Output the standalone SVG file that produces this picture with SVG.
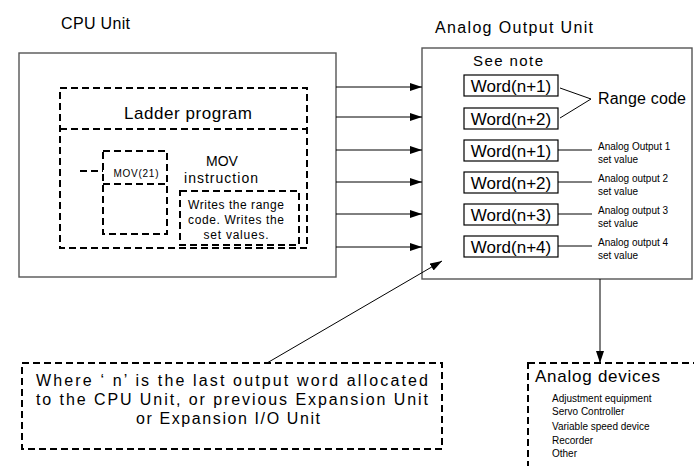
<svg xmlns="http://www.w3.org/2000/svg" width="694" height="466" viewBox="0 0 694 466">
<style>
text{font-family:"Liberation Sans",Arial,sans-serif;fill:#000}
.unit{fill:#fff;stroke:#555;stroke-width:1.4}
.dash{fill:none;stroke:#000;stroke-width:2;stroke-dasharray:7 4}
.word{fill:#fff;stroke:#000;stroke-width:1.2}
.ln{stroke:#000;stroke-width:1;fill:none}
.wt{font-size:17px;text-anchor:middle}
.sm{font-size:10px}
</style>
<defs>
<marker id="ah" viewBox="0 0 12 8" refX="12" refY="4" markerWidth="12" markerHeight="8" markerUnits="userSpaceOnUse" orient="auto">
<path d="M0,0 L12,4 L0,8 z" fill="#000"/>
</marker>
</defs>
<rect width="694" height="466" fill="#fff"/>

<g id="cpu-unit">
<text x="61" y="29" font-size="16" textLength="69">CPU Unit</text>
<rect class="unit" x="19" y="53" width="317" height="224"/>
</g>

<g id="ladder-program">
<rect class="dash" x="60" y="88" width="247" height="160"/>
<line class="dash" x1="60" y1="129" x2="307" y2="129"/>
<text x="188" y="119" font-size="17" text-anchor="middle" textLength="128">Ladder program</text>
</g>

<g id="mov21">
<rect class="dash" x="103" y="151" width="64" height="83"/>
<line class="dash" x1="103" y1="184" x2="167" y2="184"/>
<line class="dash" x1="80" y1="171" x2="103" y2="171"/>
<text x="136" y="177" font-size="10" text-anchor="middle" textLength="45">MOV(21)</text>
</g>

<g id="mov-instruction">
<text x="222" y="166" font-size="14" text-anchor="middle">MOV</text>
<text x="221" y="183" font-size="14" text-anchor="middle" textLength="74">instruction</text>
</g>

<g id="writes-note">
<rect class="dash" x="180" y="191" width="119" height="54"/>
<text x="236" y="209" font-size="12" text-anchor="middle" textLength="96">Writes the range</text>
<text x="236" y="224" font-size="12" text-anchor="middle" textLength="96">code. Writes the</text>
<text x="236" y="239" font-size="12" text-anchor="middle" textLength="65">set values.</text>
</g>

<g id="analog-output-unit">
<text x="435" y="33" font-size="16" textLength="158">Analog Output Unit</text>
<rect class="unit" x="422" y="48" width="270" height="231"/>
<text x="473" y="66" font-size="15" textLength="70">See note</text>
</g>

<g id="word-range-1">
<rect class="word" x="464" y="75" width="94" height="21"/>
<text class="wt" x="511" y="92">Word(n+1)</text>
</g>
<g id="word-range-2">
<rect class="word" x="464" y="108" width="94" height="21"/>
<text class="wt" x="511" y="125">Word(n+2)</text>
</g>
<g id="range-code">
<text x="598" y="104" font-size="16" textLength="88">Range code</text>
</g>
<g id="word-set-1">
<rect class="word" x="464" y="140" width="94" height="21"/>
<text class="wt" x="511" y="157">Word(n+1)</text>
<text class="sm" x="598" y="150">Analog Output 1</text>
<text class="sm" x="598" y="163">set value</text>
</g>
<g id="word-set-2">
<rect class="word" x="464" y="172" width="94" height="21"/>
<text class="wt" x="511" y="189">Word(n+2)</text>
<text class="sm" x="598" y="182">Analog output 2</text>
<text class="sm" x="598" y="195">set value</text>
</g>
<g id="word-set-3">
<rect class="word" x="464" y="204" width="94" height="21"/>
<text class="wt" x="511" y="221">Word(n+3)</text>
<text class="sm" x="598" y="214">Analog output 3</text>
<text class="sm" x="598" y="227">set value</text>
</g>
<g id="word-set-4">
<rect class="word" x="464" y="236" width="94" height="21"/>
<text class="wt" x="511" y="253">Word(n+4)</text>
<text class="sm" x="598" y="246">Analog output 4</text>
<text class="sm" x="598" y="259">set value</text>
</g>

<g id="where-note">
<rect class="dash" x="22" y="363" width="420" height="86"/>
<text x="232" y="386" font-size="16" text-anchor="middle" textLength="392">Where ‘ n’ is the last output word allocated</text>
<text x="232" y="405" font-size="16" text-anchor="middle" textLength="392">to the CPU Unit, or previous Expansion Unit</text>
<text x="228" y="424" font-size="16" text-anchor="middle" textLength="184">or Expansion I/O Unit</text>
</g>

<g id="analog-devices">
<rect class="dash" x="528" y="363" width="180" height="120"/>
<text x="535" y="382" font-size="17" textLength="125">Analog devices</text>
<text class="sm" x="552" y="402">Adjustment equipment</text>
<text class="sm" x="552" y="415">Servo Controller</text>
<text class="sm" x="552" y="430">Variable speed device</text>
<text class="sm" x="552" y="444">Recorder</text>
<text class="sm" x="552" y="457">Other</text>
</g>

<g id="connectors">
<line class="ln" x1="336" y1="87" x2="422" y2="87" marker-end="url(#ah)"/>
<line class="ln" x1="336" y1="117" x2="422" y2="117" marker-end="url(#ah)"/>
<line class="ln" x1="336" y1="150" x2="422" y2="150" marker-end="url(#ah)"/>
<line class="ln" x1="336" y1="182" x2="422" y2="182" marker-end="url(#ah)"/>
<line class="ln" x1="336" y1="214" x2="422" y2="214" marker-end="url(#ah)"/>
<line class="ln" x1="336" y1="247" x2="422" y2="247" marker-end="url(#ah)"/>
<polyline class="ln" points="560,88 591,99 560,118"/>
<line class="ln" x1="558" y1="150" x2="592" y2="150"/>
<line class="ln" x1="558" y1="182" x2="592" y2="182"/>
<line class="ln" x1="558" y1="214" x2="592" y2="214"/>
<line class="ln" x1="558" y1="246" x2="592" y2="246"/>
<line class="ln" x1="267" y1="363" x2="442" y2="261" marker-end="url(#ah)"/>
<line class="ln" x1="600" y1="279" x2="600" y2="363" marker-end="url(#ah)"/>
</g>
</svg>
